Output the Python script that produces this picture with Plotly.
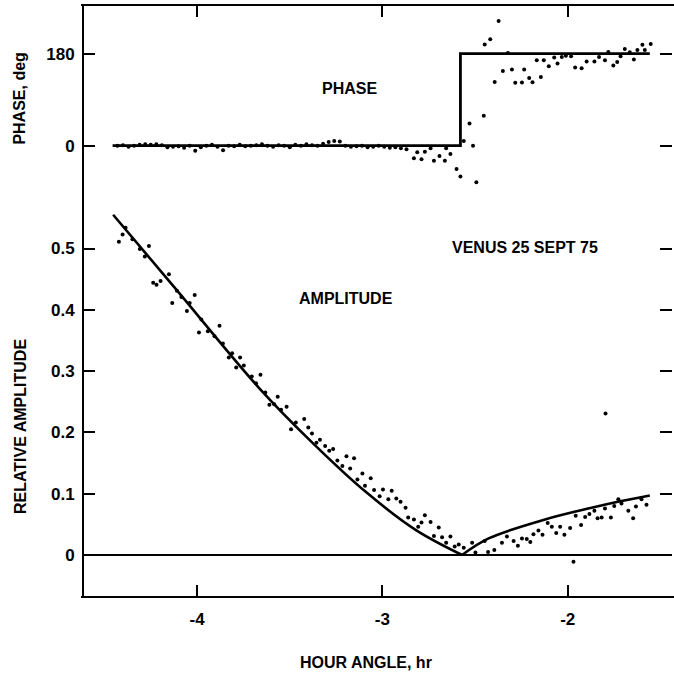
import plotly.graph_objects as go

# ---------------- data ----------------
# Amplitude: measured dots
amp_x = [-4.422, -4.402, -4.386, -4.349, -4.309, -4.282, -4.260, -4.237, -4.219, -4.197,
         -4.152, -4.134, -4.109, -4.085, -4.055, -4.040, -4.013, -3.990, -3.977, -3.942,
         -3.906, -3.879, -3.861, -3.829, -3.811, -3.789, -3.768, -3.748, -3.705, -3.682,
         -3.658, -3.632, -3.610, -3.584, -3.565, -3.547, -3.517, -3.493, -3.467, -3.422,
         -3.400, -3.380, -3.356, -3.337, -3.309, -3.287, -3.266, -3.243, -3.216, -3.194,
         -3.174, -3.153, -3.135, -3.108, -3.094, -3.063, -3.045, -3.015, -2.997, -2.968,
         -2.950, -2.925, -2.902, -2.875, -2.861, -2.830, -2.807, -2.789, -2.771, -2.740,
         -2.722, -2.696, -2.678, -2.656, -2.633, -2.610, -2.588, -2.561, -2.516, -2.498,
         -2.448, -2.430, -2.396, -2.355, -2.328, -2.292, -2.269, -2.247, -2.221, -2.202,
         -2.185, -2.158, -2.136, -2.108, -2.086, -2.062, -2.041, -2.018, -1.987, -1.957,
         -1.928, -1.906, -1.883, -1.856, -1.839, -1.817, -1.799, -1.767, -1.749, -1.727,
         -1.710, -1.673, -1.647, -1.632, -1.602, -1.575, -1.796, -1.969]
amp_y = [0.511, 0.523, 0.534, 0.515, 0.499, 0.487, 0.504, 0.444, 0.441, 0.447,
         0.458, 0.411, 0.431, 0.421, 0.398, 0.411, 0.424, 0.363, 0.384, 0.365,
         0.357, 0.374, 0.345, 0.322, 0.329, 0.306, 0.322, 0.309, 0.291, 0.280,
         0.294, 0.265, 0.245, 0.246, 0.258, 0.237, 0.242, 0.205, 0.216, 0.222,
         0.208, 0.198, 0.183, 0.188, 0.178, 0.170, 0.173, 0.154, 0.145, 0.161,
         0.141, 0.158, 0.123, 0.133, 0.113, 0.125, 0.106, 0.096, 0.107, 0.091,
         0.105, 0.092, 0.087, 0.077, 0.061, 0.058, 0.046, 0.053, 0.065, 0.054,
         0.031, 0.045, 0.029, 0.020, 0.030, 0.014, 0.017, 0.012, 0.020, 0.004,
         0.023, 0.005, 0.008, 0.020, 0.030, 0.023, 0.015, 0.027, 0.026, 0.021,
         0.034, 0.040, 0.033, 0.052, 0.046, 0.036, 0.046, 0.033, 0.044, 0.064,
         0.049, 0.062, 0.067, 0.072, 0.060, 0.061, 0.076, 0.061, 0.080, 0.091,
         0.084, 0.072, 0.060, 0.079, 0.091, 0.082, 0.231, -0.011]

# Amplitude: model curve (two branches meeting at the null)
model_amp_left_x = [-4.453, -4.112, -3.664, -3.377, -3.090, -2.821, -2.570]
model_amp_left_y = [0.555, 0.433, 0.272, 0.183, 0.103, 0.041, 0.000]
model_amp_right_x = [-2.570, -2.427, -2.122, -1.871, -1.710, -1.557]
model_amp_right_y = [0.000, 0.027, 0.058, 0.077, 0.088, 0.097]

# Phase: measured dots (deg)
phase_x = [-4.43, -4.40, -4.37, -4.34, -4.31, -4.28, -4.25, -4.22, -4.19, -4.16,
           -4.13, -4.10, -4.07, -4.04, -4.01, -3.98, -3.95, -3.92, -3.89, -3.86,
           -3.83, -3.80, -3.77, -3.74, -3.71, -3.68, -3.65, -3.62, -3.59, -3.56,
           -3.53, -3.50, -3.47, -3.44, -3.41, -3.38, -3.35, -3.32, -3.29, -3.26,
           -3.23, -3.20, -3.17, -3.14, -3.11, -3.08, -3.05, -3.02, -2.99, -2.96,
           -2.93, -2.90, -2.87,
           -2.830, -2.812, -2.789, -2.771, -2.740, -2.722, -2.692, -2.663, -2.656, -2.633,
           -2.600, -2.579, -2.561, -2.530, -2.511, -2.493, -2.453, -2.448, -2.418, -2.394,
           -2.373, -2.350, -2.323, -2.301, -2.283, -2.247, -2.235, -2.208, -2.190, -2.167,
           -2.145, -2.129, -2.102, -2.073, -2.055, -2.032, -2.010, -1.982, -1.960, -1.925,
           -1.898, -1.856, -1.831, -1.799, -1.781, -1.754, -1.733, -1.715, -1.692, -1.665,
           -1.643, -1.624, -1.597, -1.584, -1.552]
phase_y = [0, 1, -2, 0, 2, 3, 2, 3, 1, -3,
           -2, -1, -4, 0, -10, -3, 0, 2, -2, -9,
           0, -1, 2, -1, 0, 1, 3, 0, -2, 1,
           0, -3, 2, 0, 3, 1, 0, 4, 7, 9,
           8, 0, -2, -1, 0, -3, -2, 0, -2, -4,
           -3, -5, -7,
           -24.6, -12.9, -26.5, -11.6, -5.2, -29.2, -20.0, -29.2, -5.0, -16.2,
           -45.4, -60.3, 9.2, 43.6, 0.0, -71.4, 58.5, 198.0, 207.9, 124.7,
           243.6, 146.0, 181.0, 148.8, 122.8, 123.5, 148.8, 132.5, 124.1, 167.0,
           134.4, 167.0, 155.3, 172.2, 160.5, 173.4, 176.0, 174.8, 152.7, 151.4,
           164.4, 164.4, 173.4, 167.0, 183.1, 156.6, 163.7, 174.8, 189.0, 182.5,
           168.3, 187.0, 197.5, 187.0, 198.7]

# Phase: model step
model_phase_x = [-4.456, -2.579, -2.579, -1.557]
model_phase_y = [0, 0, 180, 180]

x_ticks = [-4, -3, -2]
x_tick_labels = ["-4", "-3", "-2"]
amp_ticks = [0, 0.1, 0.2, 0.3, 0.4, 0.5]
amp_tick_labels = ["0", "0.1", "0.2", "0.3", "0.4", "0.5"]
phase_ticks = [0, 180]
phase_tick_labels = ["0", "180"]

FONT = "Liberation Sans"

fig = go.Figure()

for mx, my in ((model_amp_left_x, model_amp_left_y), (model_amp_right_x, model_amp_right_y)):
    fig.add_trace(go.Scatter(x=mx, y=my, mode="lines",
                             line=dict(color="black", width=2.6, shape="spline", smoothing=1.0),
                             yaxis="y", showlegend=False, hoverinfo="skip"))
fig.add_trace(go.Scatter(x=amp_x, y=amp_y, mode="markers",
                         marker=dict(color="black", size=4),
                         yaxis="y", showlegend=False))
fig.add_trace(go.Scatter(x=model_phase_x, y=model_phase_y, mode="lines",
                         line=dict(color="black", width=2.8),
                         yaxis="y2", showlegend=False, hoverinfo="skip"))
fig.add_trace(go.Scatter(x=phase_x, y=phase_y, mode="markers",
                         marker=dict(color="black", size=4),
                         yaxis="y2", showlegend=False))

tickfont = dict(family=FONT, size=17, color="black", weight="bold")

fig.update_layout(
    width=674, height=676,
    margin=dict(l=83, r=0, t=6, b=80),
    paper_bgcolor="white", plot_bgcolor="white",
    showlegend=False,
    xaxis=dict(range=[-4.6157, -1.4373], tickvals=x_ticks, ticktext=x_tick_labels,
               ticks="inside", ticklen=11, tickwidth=2, tickcolor="black",
               showline=True, linewidth=2, linecolor="black", mirror="ticks",
               showgrid=False, zeroline=False, tickfont=tickfont,
               ticklabelstandoff=7),
    yaxis=dict(range=[-0.0669, 0.8956], tickvals=amp_ticks, ticktext=amp_tick_labels,
               ticks="inside", ticklen=12, tickwidth=2, tickcolor="black",
               showline=True, linewidth=2, linecolor="rgba(0,0,0,0)", mirror="ticks",
               showgrid=False, zeroline=True, zerolinecolor="black", zerolinewidth=2,
               tickfont=tickfont, ticklabelstandoff=3),
    yaxis2=dict(range=[-880, 273], tickvals=phase_ticks, ticktext=phase_tick_labels,
                overlaying="y", side="left", anchor="x",
                ticks="inside", ticklen=12, tickwidth=2, tickcolor="black",
                showline=True, linewidth=2, linecolor="rgba(0,0,0,0)", mirror="ticks",
                showgrid=False, zeroline=False, tickfont=tickfont, ticklabelstandoff=3),
)

# left frame line
fig.add_shape(type="line", xref="paper", yref="paper", x0=0, x1=0, y0=0, y1=1,
              line=dict(color="black", width=2))

annfont = dict(family=FONT, size=16, color="black", weight="bold")
def ann(x, y, xref, yref, text, angle=0):
    fig.add_annotation(x=x, y=y, xref=xref, yref=yref, text=text, textangle=angle,
                       xanchor="center", yanchor="middle", showarrow=False, font=annfont)

ann(-3.18, 112, "x", "y2", "PHASE")
ann(-3.196, 0.419, "x", "y", "AMPLITUDE")
ann(-2.233, 0.501, "x", "y", "VENUS 25 SEPT 75")
ann(-0.107, 0.843, "paper", "paper", "PHASE, deg", -90)
ann(-0.107, 0.288, "paper", "paper", "RELATIVE AMPLITUDE", -90)
ann(0.4805, -0.113, "paper", "paper", "HOUR ANGLE, hr")

fig.write_html("out.html", config={"displayModeBar": False},
               post_script="document.body.style.margin='0';document.body.style.overflow='hidden';")
